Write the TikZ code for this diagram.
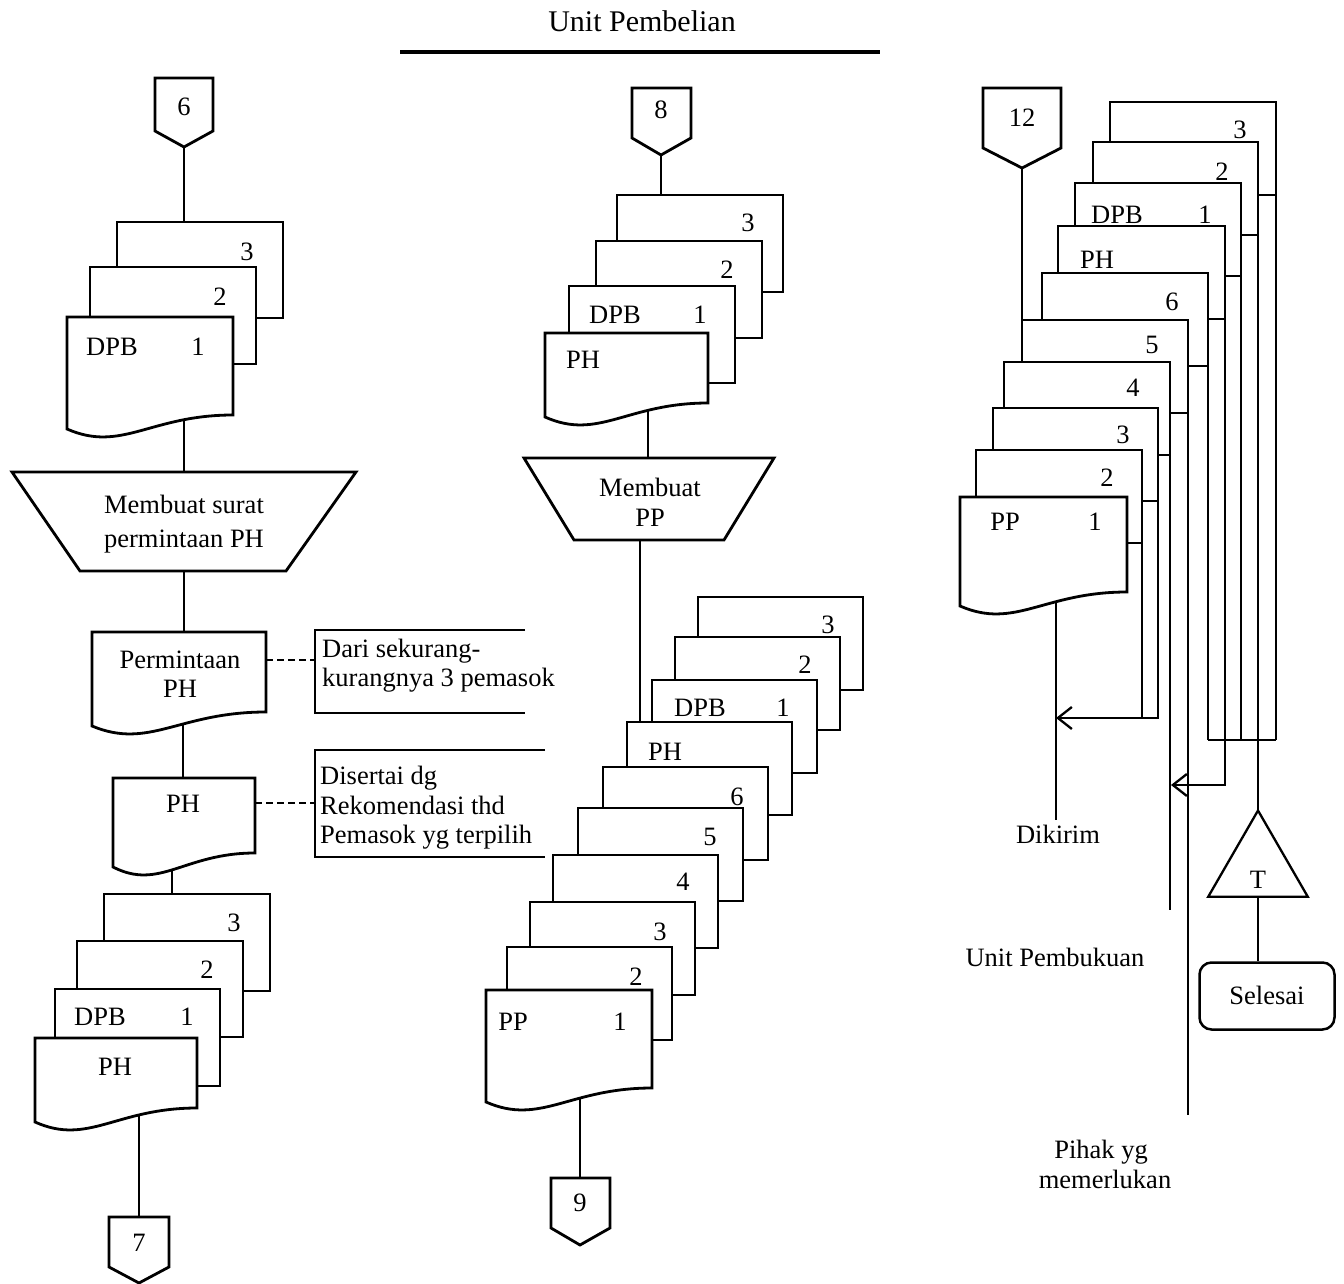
\documentclass[tikz,border=0pt]{standalone}
\usepackage{fontspec}
\setmainfont{Liberation Serif}
\usetikzlibrary{arrows.meta,shapes.geometric,calc}
\pgfdeclarelayer{paper}
\pgfdeclarelayer{bg}
\pgfsetlayers{paper,bg,main}
\tikzset{
  docline/.style={draw=black, fill=white, line width=2.8pt, line join=miter},
  docbox/.style={draw=black, fill=white, line width=2.8pt, inner sep=0pt, outer sep=0pt, anchor=north west},
  conn/.style={draw=black, line width=2.8pt},
  flow/.style={draw=black, line width=2.3pt},
  dashlink/.style={draw=black, line width=2.4pt, dash pattern=on 7pt off 4pt},
  txt/.style={font=\fontsize{26.5}{30}\selectfont, inner sep=0pt, text height=17.5pt, text depth=0pt},
  arr/.style={-{Straight Barb[length=14pt,width=22pt,line width=2.3pt]}}
}
\newcommand{\mkdoc}[5]{\node[docbox, minimum width=#4pt, minimum height=#5pt] (#1) at (#2,#3) {};}
\newcommand{\mkwave}[5]{%
  \pgfmathsetmacro{\wdR}{#2+#4}%
  \pgfmathsetmacro{\wdB}{#3+#5}%
  \pgfmathsetmacro{\wdCa}{#2+0.5*#4}%
  \pgfmathsetmacro{\wdCb}{#2+0.33*#4}%
  \pgfmathsetmacro{\wdBc}{#3+#5+38}%
  \pgfmathsetmacro{\wdBl}{#3+#5+14}%
  \draw[docline] (#2,#3) -- (\wdR,#3) -- (\wdR,\wdB) .. controls (\wdCa,\wdB) and (\wdCb,\wdBc) .. (#2,\wdBl) -- cycle;
  \node[inner sep=0pt, outer sep=0pt, minimum width=#4pt, minimum height=#5pt, anchor=north west] (#1) at (#2,#3) {};
}
\begin{document}
\begin{tikzpicture}[x=1pt,y=-1pt]
\useasboundingbox (0,0) rectangle (1344,1284);
\begin{pgfonlayer}{paper}
\fill[white] (0,0) rectangle (1344,1284);
\end{pgfonlayer}

% ---------- title ----------
\node[txt, font=\fontsize{30}{34}\selectfont, text height=20pt] (title) at (642,22) {Unit Pembelian};
\coordinate (tl1) at (400,52);
\coordinate (tl2) at (880,52);
\draw[line width=3.8pt] (tl1) -- (tl2);

% ================= column 1 =================
\draw[docline] (155,78) -- (213,78) -- (213,131) -- (184,147) -- (155,131) -- cycle;
\node[txt] (c6) at (184,107) {6};
\coordinate (c6tip) at (184,147);

\mkdoc{A3}{117}{222}{166}{96}
\mkdoc{A2}{90}{267}{166}{97}
\mkwave{A1}{67}{317}{166}{98}
\node[txt] (A3n) at (247,252) {3};
\node[txt] (A2n) at (220,297) {2};
\node[txt] (A1a) at (112,347) {DPB};
\node[txt] (A1n) at (198,347) {1};

\draw[docline] (12,472) -- (356,472) -- (286,571) -- (80,571) -- cycle;
\coordinate (T1n) at (184,472);
\coordinate (T1s) at (184,571);
\node[txt] (T1a) at (184,505) {Membuat surat};
\node[txt] (T1b) at (184,539) {permintaan PH};

\mkwave{P1}{92}{632}{174}{80}
\node[txt] (P1a) at (180,660) {Permintaan};
\node[txt] (P1b) at (180,689) {PH};
\coordinate (Pout) at (183,700);

\coordinate (N1) at (315,660);
\draw[conn] (525,630) -- (315,630) -- (315,713) -- (525,713);
\node[txt, anchor=base west] (N1a) at (322,657) {Dari sekurang-};
\node[txt, anchor=base west] (N1b) at (322,686) {kurangnya 3 pemasok};
\draw[dashlink] (P1.east |- N1) -- (N1);

\mkwave{Q1}{113}{778}{142}{75}
\node[txt] (Q1a) at (183,804) {PH};
\coordinate (Qout) at (172,830);

\coordinate (N2) at (315,803);
\draw[conn] (545,750) -- (315,750) -- (315,857) -- (545,857);
\node[txt, anchor=base west] (N2a) at (320,784) {Disertai dg};
\node[txt, anchor=base west] (N2b) at (320,814) {Rekomendasi thd};
\node[txt, anchor=base west] (N2c) at (320,843) {Pemasok yg terpilih};
\draw[dashlink] (Q1.east |- N2) -- (N2);

\mkdoc{B3}{104}{894}{166}{97}
\mkdoc{B2}{77}{941}{166}{96}
\mkdoc{B1}{55}{989}{165}{97}
\mkwave{B0}{35}{1038}{162}{70}
\node[txt] (B3n) at (234,923) {3};
\node[txt] (B2n) at (207,970) {2};
\node[txt] (B1a) at (100,1017) {DPB};
\node[txt] (B1n) at (187,1017) {1};
\node[txt] (B0a) at (115,1067) {PH};
\coordinate (Bout) at (139,1080);

\draw[docline] (109,1217) -- (169,1217) -- (169,1267) -- (139,1283) -- (109,1267) -- cycle;
\node[txt] (c7) at (139,1243) {7};
\coordinate (c7top) at (139,1217);

% ================= column 2 =================
\draw[docline] (632,88) -- (691,88) -- (691,138) -- (661,155) -- (632,138) -- cycle;
\node[txt] (c8) at (661,110) {8};
\coordinate (c8tip) at (661,155);

\mkdoc{C3}{617}{195}{166}{97}
\mkdoc{C2}{596}{241}{166}{97}
\mkdoc{C1}{569}{286}{166}{97}
\mkwave{C0}{545}{333}{163}{70}
\node[txt] (C3n) at (748,223) {3};
\node[txt] (C2n) at (727,270) {2};
\node[txt] (C1a) at (615,315) {DPB};
\node[txt] (C1n) at (700,315) {1};
\node[txt] (C0a) at (583,360) {PH};
\coordinate (Cout) at (648,380);

\draw[docline] (524,458) -- (774,458) -- (724,540) -- (574,540) -- cycle;
\coordinate (T2n) at (648,458);
\coordinate (T2s) at (640,540);
\node[txt] (T2a) at (650,488) {Membuat};
\node[txt] (T2b) at (650,518) {PP};

\mkdoc{D1}{698}{597}{165}{93}
\mkdoc{D2}{675}{637}{165}{93}
\mkdoc{D3}{652}{680}{165}{93}
\mkdoc{D4}{627}{722}{165}{93}
\mkdoc{D5}{603}{767}{165}{93}
\mkdoc{D6}{578}{808}{165}{93}
\mkdoc{D7}{553}{855}{165}{93}
\mkdoc{D8}{530}{902}{165}{93}
\mkdoc{D9}{507}{947}{165}{93}
\mkwave{D10}{486}{990}{166}{98}
\node[txt] (D1n) at (828,625) {3};
\node[txt] (D2n) at (805,665) {2};
\node[txt] (D3a) at (700,708) {DPB};
\node[txt] (D3n) at (783,708) {1};
\node[txt] (D4a) at (665,752) {PH};
\node[txt] (D5n) at (737,797) {6};
\node[txt] (D6n) at (710,837) {5};
\node[txt] (D7n) at (683,882) {4};
\node[txt] (D8n) at (660,932) {3};
\node[txt] (D9n) at (636,977) {2};
\node[txt] (D10a) at (513,1022) {PP};
\node[txt] (D10n) at (620,1022) {1};
\coordinate (Dout) at (580,1060);

\draw[docline] (551,1178) -- (610,1178) -- (610,1228) -- (580,1245) -- (551,1228) -- cycle;
\node[txt] (c9) at (580,1203) {9};
\coordinate (c9top) at (580,1178);

% ================= column 3 =================
\draw[docline] (983,88) -- (1061,88) -- (1061,148) -- (1022,168) -- (983,148) -- cycle;
\node[txt] (c12) at (1022,118) {12};
\coordinate (c12tip) at (1022,168);

\mkdoc{E1}{1110}{102}{166}{93}
\mkdoc{E2}{1093}{142}{165}{93}
\mkdoc{E3}{1075}{183}{166}{93}
\mkdoc{E4}{1058}{226}{167}{93}
\mkdoc{E5}{1042}{273}{166}{93}
\mkdoc{E6}{1022}{320}{166}{93}
\mkdoc{E7}{1004}{362}{166}{93}
\mkdoc{E8}{993}{408}{165}{93}
\mkdoc{E9}{976}{450}{166}{93}
\mkwave{E10}{960}{497}{167}{95}
\node[txt] (E1n) at (1240,130) {3};
\node[txt] (E2n) at (1222,172) {2};
\node[txt] (E3a) at (1117,215) {DPB};
\node[txt] (E3n) at (1205,215) {1};
\node[txt] (E4a) at (1097,260) {PH};
\node[txt] (E5n) at (1172,302) {6};
\node[txt] (E6n) at (1152,345) {5};
\node[txt] (E7n) at (1133,388) {4};
\node[txt] (E8n) at (1123,435) {3};
\node[txt] (E9n) at (1107,478) {2};
\node[txt] (E10a) at (1005,522) {PP};
\node[txt] (E10n) at (1095,522) {1};
\coordinate (Eout) at (1056,560);

\coordinate (dk) at (1056,718);
\coordinate (dkend) at (1056,820);
\node[txt] (dikirim) at (1058,835) {Dikirim};
\coordinate (upend) at (1170,910);
\node[txt] (unitpb) at (1055,958) {Unit Pembukuan};
\coordinate (phend) at (1188,1115);
\node[txt] (pihak1) at (1101,1150) {Pihak yg};
\node[txt] (pihak2) at (1105,1180) {memerlukan};
\coordinate (bar) at (1208,740);
\coordinate (pharr) at (1225,785);

\node[draw, line width=2.3pt, regular polygon, regular polygon sides=3, minimum size=115pt, inner sep=0pt, outer sep=0pt] (tri) at (1258,868) {};
\node[txt] (triT) at (1258,880) {T};
\node[txt, draw, line width=2.5pt, rounded corners=12pt, minimum width=135pt, minimum height=67pt] (sel) at (1267,996) {Selesai};

% ================= connectors (behind) =================
\begin{pgfonlayer}{bg}
\draw[conn] (c6tip) -- (c6tip |- A3.north);
\draw[conn] (T1n |- A1.center) -- (T1n);
\draw[conn] (T1s) -- (T1s |- P1.north);
\draw[conn] (Pout) -- (Pout |- Q1.north);
\draw[conn] (Qout) -- (Qout |- B3.north);
\draw[conn] (Bout) -- (c7top);

\draw[conn] (c8tip) -- (c8tip |- C3.north);
\draw[conn] (Cout) -- (T2n);
\draw[conn] (T2s) -- (T2s |- D4.north);
\draw[conn] (Dout) -- (c9top);

\draw[conn] (c12tip) -- (c12tip |- E7.north);
\draw[flow] (Eout) -- (dkend);
\draw[flow] (E9.south east) -- (E9.south east |- dk);
\draw[flow, arr] (E8.south east) -- (E8.south east |- dk) -- (dk);
\draw[flow] (E7.south east) -- (E7.south east |- upend);
\draw[flow] (E6.south east) -- (E6.south east |- phend);
\draw[flow] (E5.south east) -- (E5.south east |- bar);
\draw[flow, arr] (E4.south east) -- (E4.south east |- pharr) -- ($(E7.south east |- pharr)+(1,0)$);
\draw[flow] (E3.south east) -- (E3.south east |- bar);
\draw[flow] (E1.south east) -- (E1.south east |- bar);
\draw[flow] (bar) -- (E1.south east |- bar);
\draw[conn] (E2.south east) -- (tri.north);
\draw[conn] (tri.south) -- (tri.south |- sel.north);
\end{pgfonlayer}
\end{tikzpicture}
\end{document}
